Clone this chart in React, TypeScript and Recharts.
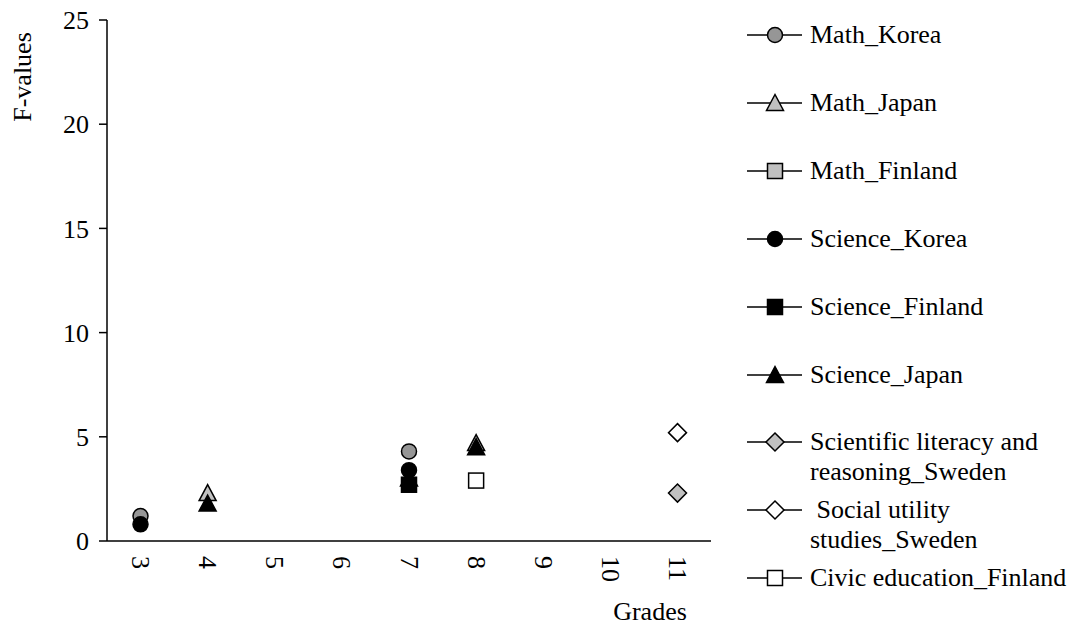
import { LineChart, Line, XAxis, YAxis, Legend, Label } from "recharts";

const FONT = '"Liberation Serif", "Times New Roman", serif';

const grades = ["3", "4", "5", "6", "7", "8", "9", "10", "11"];
const yTicks = [0, 5, 10, 15, 20, 25];

const mathKorea = [1.2, null, null, null, 4.3, null, null, null, null];
const mathJapan = [null, 2.3, null, null, null, 4.7, null, null, null];
const mathFinland = [null, null, null, null, null, null, null, null, null];
const scienceKorea = [0.8, null, null, null, 3.4, null, null, null, null];
const scienceFinland = [null, null, null, null, 2.7, null, null, null, null];
const scienceJapan = [null, 1.8, null, null, 3.0, 4.5, null, null, null];
const sciLiteracySweden = [null, null, null, null, null, null, null, null, 2.3];
const socialUtilitySweden = [null, null, null, null, null, null, null, null, 5.2];
const civicFinland = [null, null, null, null, null, 2.9, null, null, null];

const seriesNames = [
  "Math_Korea",
  "Math_Japan",
  "Math_Finland",
  "Science_Korea",
  "Science_Finland",
  "Science_Japan",
  "Scientific literacy and\nreasoning_Sweden",
  " Social utility\nstudies_Sweden",
  "Civic education_Finland",
];
const seriesValues = [
  mathKorea,
  mathJapan,
  mathFinland,
  scienceKorea,
  scienceFinland,
  scienceJapan,
  sciLiteracySweden,
  socialUtilitySweden,
  civicFinland,
];

// marker look per series
const seriesStyle = [
  { shape: "circle", fill: "#969696" },
  { shape: "triangle", fill: "#c0c0c0" },
  { shape: "square", fill: "#c0c0c0" },
  { shape: "circle", fill: "#000" },
  { shape: "square", fill: "#000" },
  { shape: "triangle", fill: "#000" },
  { shape: "diamond", fill: "#c0c0c0" },
  { shape: "diamond", fill: "#fff" },
  { shape: "square", fill: "#fff" },
];

const rows = grades.map((g, i) => {
  const row: Record<string, any> = { grade: g };
  seriesValues.forEach((vals, s) => {
    row["s" + s] = vals[i];
  });
  return row;
});

function Marker({ shape, fill, cx, cy }: { shape: string; fill: string; cx: number; cy: number }) {
  const common = { fill, stroke: "#000", strokeWidth: 1.5 };
  if (shape === "circle") return <circle cx={cx} cy={cy} r={7.5} {...common} />;
  if (shape === "square") return <rect x={cx - 7.5} y={cy - 7.5} width={15} height={15} {...common} />;
  if (shape === "triangle")
    return <polygon points={`${cx},${cy - 8.5} ${cx + 8.5},${cy + 7.5} ${cx - 8.5},${cy + 7.5}`} {...common} />;
  return <polygon points={`${cx},${cy - 9} ${cx + 9},${cy} ${cx},${cy + 9} ${cx - 9},${cy}`} {...common} />;
}

const makeDot = (s: number) => (props: any) => {
  const { cx, cy, value, index } = props;
  if (value == null || cy == null || isNaN(cy)) return <g key={`d${s}-${index}`} />;
  return (
    <g key={`d${s}-${index}`}>
      <Marker shape={seriesStyle[s].shape} fill={seriesStyle[s].fill} cx={cx} cy={cy} />
    </g>
  );
};

const GradeTick = (props: any) => {
  const { x, y, payload } = props;
  return (
    <text
      x={x}
      y={y}
      transform={`rotate(90, ${x}, ${y})`}
      textAnchor="start"
      dominantBaseline="central"
      fill="#000"
      fontSize={26}
      fontFamily={FONT}
    >
      {payload.value}
    </text>
  );
};

const LegendBox = () => (
  <div style={{ position: "relative", width: 331, height: 627, fontFamily: FONT, fontSize: 26, color: "#000" }}>
    {seriesNames.map((name, i) => (
      <div key={name} style={{ position: "absolute", left: 0, top: 20 + i * 67.9, display: "flex" }}>
        <svg width={58} height={30} style={{ display: "block", flex: "none" }}>
          <line x1={2} y1={15} x2={57} y2={15} stroke="#000" strokeWidth={1.5} />
          <Marker shape={seriesStyle[i].shape} fill={seriesStyle[i].fill} cx={30} cy={15} />
        </svg>
        <div style={{ marginLeft: 7, lineHeight: "30px", whiteSpace: "pre" }}>{name}</div>
      </div>
    ))}
  </div>
);

export default function App() {
  return (
    <div style={{ position: "absolute", left: 0, top: 0, width: 1076, height: 627, background: "#fff" }}>
      <LineChart
        width={1076}
        height={627}
        data={rows}
        margin={{ top: 20, right: 365, bottom: 56, left: 7 }}
        style={{ fontFamily: FONT }}
      >
        <XAxis
          dataKey="grade"
          type="category"
          height={30}
          padding={{ left: 33.5, right: 33.5 }}
          tickLine={false}
          tickSize={0}
          tickMargin={15}
          axisLine={{ stroke: "#000", strokeWidth: 1.5 }}
          tick={<GradeTick />}
          interval={0}
        >
          <Label
            content={() => (
              <text x={650} y={620} textAnchor="middle" fill="#000" fontSize={26} fontFamily={FONT}>
                Grades
              </text>
            )}
          />
        </XAxis>
        <YAxis
          width={100}
          domain={[0, 25]}
          ticks={yTicks}
          interval={0}
          tickSize={8}
          tickMargin={10}
          stroke="#000"
          axisLine={{ stroke: "#000", strokeWidth: 1.5 }}
          tickLine={{ stroke: "#000", strokeWidth: 1.5 }}
          tick={{ fill: "#000", fontSize: 26, fontFamily: FONT }}
        >
          <Label
            content={() => (
              <text
                x={22}
                y={77}
                transform="rotate(-90, 22, 77)"
                textAnchor="middle"
                dominantBaseline="central"
                fill="#000"
                fontSize={26}
                fontFamily={FONT}
              >
                F-values
              </text>
            )}
          />
        </YAxis>
        {seriesValues.map((_, s) => (
          <Line
            key={s}
            dataKey={"s" + s}
            stroke="none"
            dot={makeDot(s)}
            activeDot={false}
            isAnimationActive={false}
            legendType="none"
          />
        ))}
        <Legend
          layout="horizontal"
          align="center"
          verticalAlign="middle"
          wrapperStyle={{ left: 745, top: 0, width: 331, height: 627 }}
          content={() => <LegendBox />}
        />
      </LineChart>
    </div>
  );
}
